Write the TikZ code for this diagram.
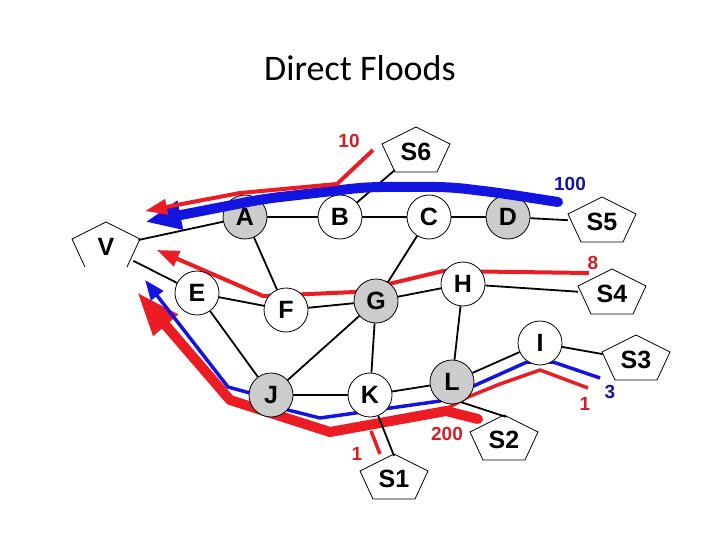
\documentclass[tikz,border=0pt]{standalone}
\usepackage{fontspec}
\setmainfont{Liberation Sans}
\newfontfamily\titlefont{Carlito}
\usetikzlibrary{arrows.meta,shapes.geometric}
\definecolor{flred}{RGB}{236,28,36}
\definecolor{flblue}{RGB}{20,20,225}
\definecolor{lblred}{RGB}{210,30,40}
\definecolor{lblblue}{RGB}{20,20,170}

\begin{document}
\begin{tikzpicture}[x=1pt,y=-1pt,
    rtr/.style={circle,draw,line width=0.8pt,fill=white,minimum size=44pt,inner sep=0pt,font=\fontsize{25}{25}\selectfont\bfseries},
    grtr/.style={rtr,fill=black!20},
    srv/.style={ellipse,minimum width=68pt,minimum height=46pt,inner sep=0pt,font=\fontsize{25}{25}\selectfont\bfseries},
    link/.style={line width=1.8pt},
    cnt/.style={font=\fontsize{19}{19}\selectfont\bfseries},
    flood/.style={line width=4pt,line join=round},
    >=Latex]
  \useasboundingbox (0,0) rectangle (720,540);
  \node (title) at (360,68) {\titlefont\fontsize{36}{36}\selectfont Direct Floods};

  \draw[flood,flred,-{Triangle[length=22pt,width=16pt]}] (589,273) -- (443,271) -- (355,292) -- (263,296) -- (157,250);
  \draw[flood,flred,line width=10pt,line cap=round,-{Triangle[length=44pt,width=30pt]}] (478,419) -- (446,411) -- (330,432) -- (230,400) -- (137,292);
  \draw[flood,flblue,line width=3.5pt,-{Triangle[length=20pt,width=15pt]}] (600,378) -- (553,362) -- (527,362) -- (440,401) -- (320,418) -- (288,410) -- (250,393) -- (228,387) -- (145,280);
  \draw[flood,flred,line width=3.5pt] (588,388) -- (540,370) -- (500,384) -- (468,397) -- (446,409);
  \draw[flood,flred,line width=3.5pt] (371,431) -- (380,454);

  \node[grtr] (A) at (245,217) {A};
  \node[rtr] (B) at (340,217) {B};
  \node[rtr] (C) at (429,217) {C};
  \node[grtr] (D) at (508,217) {D};
  \node[rtr] (E) at (197,293) {E};
  \node[rtr] (F) at (286,310) {F};
  \node[grtr] (G) at (376,301) {G};
  \node[rtr] (H) at (463,284) {H};
  \node[rtr] (I) at (540,343) {I};
  \node[grtr] (J) at (271,395) {J};
  \node[rtr] (K) at (370,395) {K};
  \node[grtr] (L) at (452,382) {L};
  \node[srv] (V) at (106,247) {V};
  \node[srv] (S1) at (394,479) {S1};
  \node[srv] (S2) at (504,440) {S2};
  \node[srv] (S3) at (636,360) {S3};
  \node[srv] (S4) at (612,294) {S4};
  \node[srv] (S5) at (602,222) {S5};
  \node[srv] (S6) at (416,152) {S6};
  \foreach \s in {S1,S2,S3,S4,S5,S6}
    \draw[line width=0.8pt,shift={(\s.center)}] (0,-25) -- (34,-8) -- (21,20) -- (-21,20) -- (-34,-8) -- cycle;
  \draw[line width=0.8pt,shift={(V.center)}] (-21,20) -- (-34,-8) -- (0,-25) -- (34,-8) -- (21,20);

  \draw[link] (V) -- (A);
  \draw[link] (V) -- (E);
  \draw[link] (A) -- (B);
  \draw[link] (A) -- (F);
  \draw[link] (B) -- (C);
  \draw[link] (B) -- (S6);
  \draw[link] (C) -- (D);
  \draw[link] (C) -- (G);
  \draw[link] (D) -- (S5);
  \draw[link] (E) -- (F);
  \draw[link] (E) -- (J);
  \draw[link] (F) -- (G);
  \draw[link] (G) -- (H);
  \draw[link] (G) -- (J);
  \draw[link] (G) -- (K);
  \draw[link] (H) -- (S4);
  \draw[link] (H) -- (L);
  \draw[link] (J) -- (K);
  \draw[link] (K) -- (L);
  \draw[link] (K) -- (S1.north);
  \draw[link] (L) -- (I);
  \draw[link] (L.295) -- (S2.85);
  \draw[link] (I) -- (S3);

  \draw[flood,flblue,line width=10pt,line cap=round,rounded corners=15pt,-{Triangle[length=36pt,width=27pt]}] (558,202) -- (500,193) -- (450,187) -- (367,187) -- (263,199) -- (145,222);
  \draw[flood,flred,-{Triangle[length=22pt,width=15pt]}] (373,150) -- (337,184) -- (240,193) -- (145,211);

  \node[cnt,lblred] (n10) at (349,141) {10};
  \node[cnt,lblblue] (n100) at (570,184) {100};
  \node[cnt,lblred] (n8) at (593,263) {8};
  \node[cnt,lblblue] (n3) at (610,392) {3};
  \node[cnt,lblred] (n1a) at (585,404) {1};
  \node[cnt,lblred] (n200) at (447,434) {200};
  \node[cnt,lblred] (n1b) at (357,454) {1};
\end{tikzpicture}
\end{document}
